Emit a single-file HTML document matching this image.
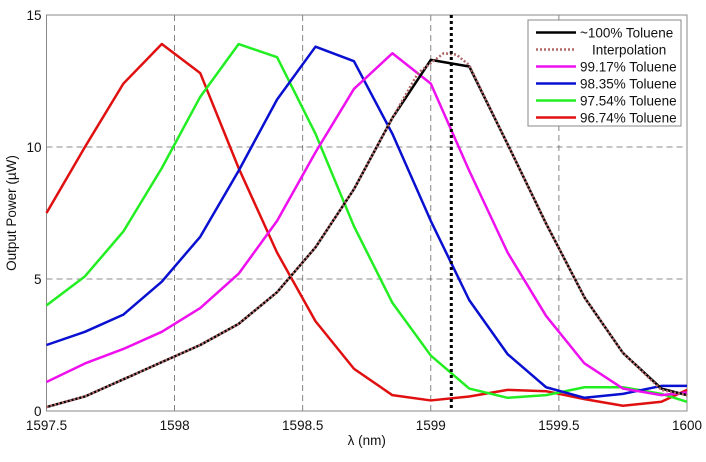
<!DOCTYPE html>
<html><head><meta charset="utf-8"><style>
body{margin:0;background:#fff}
svg text{font-family:"Liberation Sans",Arial,sans-serif;font-size:13.5px;fill:#111}
</style></head><body>
<svg id="c" width="706" height="457"></svg>
<script>
const xs=[1597.5,1597.65,1597.8,1597.95,1598.1,1598.25,1598.4,1598.55,1598.7,1598.85,1599,1599.15,1599.3,1599.45,1599.6,1599.75,1599.9,1600];
const red=[7.5,10,12.4,13.9,12.8,9.2,6.0,3.4,1.6,0.6,0.4,0.55,0.8,0.75,0.45,0.2,0.35,0.8];
const green=[4.0,5.1,6.8,9.2,11.9,13.9,13.4,10.5,7.0,4.1,2.1,0.85,0.5,0.6,0.9,0.9,0.65,0.35];
const blue=[2.5,3.0,3.65,4.9,6.6,9.1,11.8,13.8,13.25,10.5,7.2,4.2,2.15,0.9,0.5,0.65,0.95,0.95];
const magenta=[1.1,1.8,2.35,3.0,3.9,5.2,7.2,9.8,12.2,13.55,12.4,9.1,6.0,3.6,1.8,0.85,0.6,0.7];
const black=[0.15,0.55,1.2,1.85,2.5,3.3,4.5,6.2,8.4,11.1,13.3,13.05,10.1,7.1,4.3,2.2,0.85,0.6];
const interpX=[1597.5,1597.65,1597.8,1597.95,1598.1,1598.25,1598.4,1598.55,1598.7,1598.85,1598.95,1599.05,1599.1,1599.15,1599.3,1599.45,1599.6,1599.75,1599.9,1600];
const interpY=[0.15,0.55,1.2,1.85,2.5,3.3,4.5,6.2,8.4,11.1,12.8,13.55,13.5,13.1,10.1,7.1,4.3,2.2,0.8,0.6];
const xTicks=[1597.5,1598,1598.5,1599,1599.5,1600];
const xTickLabels=["1597.5","1598","1598.5","1599","1599.5","1600"];
const yTicks=[0,5,10,15];
const markerX=1599.08;
const NS="http://www.w3.org/2000/svg",svg=document.getElementById('c');
const L=46.5,R=687,T=15,B=411;
const sx=v=>L+(v-1597.5)/2.5*(R-L), sy=v=>B-v/15*(B-T);
function mk(t,a,p){const e=document.createElementNS(NS,t);for(const k in a)e.setAttribute(k,a[k]);(p||svg).appendChild(e);return e;}
xTicks.forEach((v,i)=>{
 if(i>0&&i<xTicks.length-1){const g=mk('line',{x1:sx(v),x2:sx(v),y1:T,y2:B,stroke:'#666','stroke-width':0.8,'stroke-dasharray':'6,4'});
 
 }
 const t=mk('text',{x:sx(v),y:B+19,'text-anchor':'middle'});t.textContent=xTickLabels[i];
 
 
});
yTicks.forEach(v=>{
 if(v>0&&v<15){const g=mk('line',{x1:L,x2:R,y1:sy(v),y2:sy(v),stroke:'#666','stroke-width':0.8,'stroke-dasharray':'6,4'});
 
 }
 const t=mk('text',{x:L-5,y:sy(v)+5,'text-anchor':'end'});t.textContent=v;
 
 
});
const frame=mk('rect',{x:L,y:T,width:R-L,height:B-T,fill:'none',stroke:'#888','stroke-width':1});


function series(X,Y,color,name,extra){
 const p=mk('polyline',Object.assign({points:X.map((x,i)=>sx(x)+','+sy(Y[i])).join(' '),fill:'none',stroke:color,'stroke-width':2.5,'stroke-linejoin':'round'},extra||{}));
 
 
}
series(xs,red,'#e01010','series-96-74');
series(xs,green,'#22ee22','series-97-54');
series(xs,blue,'#0a10d0','series-98-35');
series(xs,magenta,'#ee10ee','series-99-17');
series(xs,black,'#000','series-100');
series(interpX,interpY,'#b06868','series-interpolation',{'stroke-dasharray':'2,2','stroke-width':2.5});
const vm=mk('line',{x1:sx(markerX),x2:sx(markerX),y1:T,y2:B,stroke:'#000','stroke-width':3,'stroke-dasharray':'3,3'});


const xt=mk('text',{x:(L+R)/2,y:445,'text-anchor':'middle'});xt.textContent='λ (nm)';


const yt=mk('text',{x:0,y:0,'text-anchor':'middle',transform:'translate(16,'+((T+B)/2)+') rotate(-90)'});yt.textContent='Output Power (µW)';


const lg=mk('g',{});


mk('rect',{x:528,y:20,width:153,height:106,fill:'#fff',stroke:'#888'},lg);
const entries=[['~100% Toluene','#000',null],['Interpolation','#b06868','2,2'],['99.17% Toluene','#ee10ee',null],['98.35% Toluene','#0a10d0',null],['97.54% Toluene','#22ee22',null],['96.74% Toluene','#e01010',null]];
entries.forEach((e,i)=>{
 const y=32.5+i*17;
 const a={x1:536,x2:576,y1:y,y2:y,stroke:e[1],'stroke-width':2.5};if(e[2])a['stroke-dasharray']=e[2];
 mk('line',a,lg);
 const t=mk('text',{x:e[2]?592:580,y:y+5},lg);t.textContent=e[0];
 
 
});
</script>
</body></html>
